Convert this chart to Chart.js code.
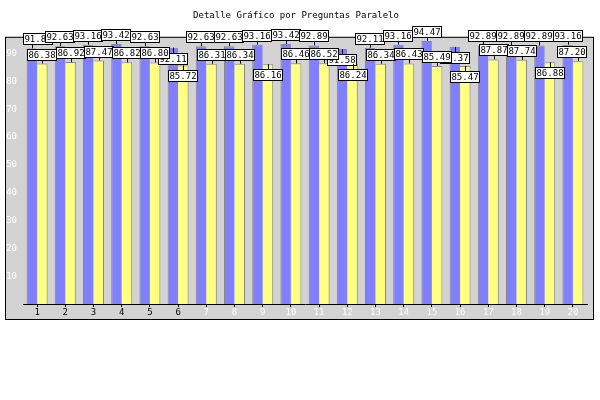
<!DOCTYPE html>
<html>
<head>
<meta charset="utf-8">
<script src="https://cdn.jsdelivr.net/npm/chart.js@4.4.1/dist/chart.umd.min.js"></script>
<style>
  html, body { margin: 0; padding: 0; background: #fff; }
  #wrap { width: 600px; height: 400px; }
</style>
</head>
<body>
<div id="wrap"><canvas id="chart" width="600" height="400"></canvas></div>
<script>
// ---- data ----
const CATEGORIES = ['1','2','3','4','5','6','7','8','9','10','11','12','13','14','15','16','17','18','19','20'];
const SERIES_A = [91.84, 92.63, 93.16, 93.42, 92.63, 92.11, 92.63, 92.63, 93.16, 93.42,
                  92.89, 91.58, 92.11, 93.16, 94.47, 92.37, 92.89, 92.89, 92.89, 93.16];
const SERIES_B = [86.38, 86.92, 87.47, 86.82, 86.80, 85.72, 86.31, 86.34, 86.16, 86.46,
                  86.52, 86.24, 86.34, 86.43, 85.49, 85.47, 87.87, 87.74, 86.88, 87.20];
const Y_TICKS = [10, 20, 30, 40, 50, 60, 70, 80, 90];
const TITLE = 'Detalle Gráfico por Preguntas Paralelo';

// labels that sit under the bar top instead of above it (index per series)
const BELOW = [[5, 11, 15], [5, 8, 11, 15, 18]];

const MONO = '"DejaVu Sans Mono", "Liberation Mono", monospace';

// gray panel behind the plot
const panelPlugin = {
  id: 'panel',
  beforeDraw(chart) {
    const ctx = chart.ctx;
    const top = chart.chartArea.top;
    ctx.save();
    ctx.fillStyle = '#d3d3d3';
    ctx.fillRect(5, top, 589, 320 - top);
    ctx.strokeStyle = '#000';
    ctx.lineWidth = 1;
    ctx.strokeRect(5.5, top + 0.5, 588, 320 - top - 1);
    ctx.restore();
  }
};

// boxed value labels with a little tie line to the bar top
const valueLabels = {
  id: 'valueLabels',
  afterDatasetsDraw(chart) {
    const ctx = chart.ctx;
    const area = chart.chartArea;
    ctx.save();
    ctx.font = '9px ' + MONO;
    ctx.textAlign = 'center';
    ctx.textBaseline = 'middle';
    chart.data.datasets.forEach((ds, di) => {
      const meta = chart.getDatasetMeta(di);
      meta.data.forEach((bar, i) => {
        const txt = ds.data[i].toFixed(2);
        const w = Math.round(ctx.measureText(txt).width) + 3;
        const h = 12;
        let left = Math.round(bar.x - w / 2);
        if (left < area.left) left = area.left;
        if (left + w > area.right) left = area.right - w;
        const below = BELOW[di].includes(i);
        const top = below ? Math.round(bar.y) + 5 : Math.round(bar.y) - 3 - h;
        const lx = Math.round(bar.x) + 0.5;
        ctx.strokeStyle = '#000';
        ctx.lineWidth = 1;
        ctx.beginPath();
        if (below) { ctx.moveTo(lx, bar.y); ctx.lineTo(lx, top); }
        else { ctx.moveTo(lx, top + h); ctx.lineTo(lx, bar.y); }
        ctx.stroke();
        ctx.fillStyle = '#fff';
        ctx.fillRect(left, top, w, h);
        ctx.strokeRect(left + 0.5, top + 0.5, w - 1, h - 1);
        ctx.fillStyle = '#000';
        ctx.fillText(txt, left + w / 2, top + h / 2 + 0.5);
      });
    });
    ctx.restore();
  }
};

new Chart(document.getElementById('chart'), {
  type: 'bar',
  data: {
    labels: CATEGORIES,
    datasets: [
      { data: SERIES_A, backgroundColor: '#8080ff', borderColor: '#888888',
        borderWidth: { top: 1, left: 1, right: 0, bottom: 0 }, borderSkipped: false },
      { data: SERIES_B, backgroundColor: '#ffff80', borderColor: '#888888',
        borderWidth: { top: 1, left: 0, right: 1, bottom: 0 }, borderSkipped: false }
    ]
  },
  options: {
    responsive: false,
    animation: false,
    events: [],
    datasets: { bar: { categoryPercentage: 0.745, barPercentage: 1.0 } },
    layout: { padding: { left: 5, right: 13, top: 0, bottom: 0 } },
    plugins: {
      legend: { display: false },
      tooltip: { enabled: false },
      title: {
        display: true, text: TITLE, color: '#000',
        font: { family: MONO, size: 9, weight: 'normal' },
        padding: { top: 10, bottom: 16 }
      }
    },
    scales: {
      x: {
        grid: { display: true, drawOnChartArea: false, offset: false, tickLength: 3, color: '#000' },
        border: { display: true, color: '#000' },
        ticks: {
          padding: 0, maxRotation: 0, autoSkip: false,
          font: { family: MONO, size: 9 },
          color: c => (c.index < 6 ? '#000' : '#fff')
        },
        afterFit(scale) { scale.height = 96; }
      },
      y: {
        min: 0, max: 96,
        grid: { display: false, drawTicks: false, tickLength: 0 },
        border: { display: false },
        afterBuildTicks(scale) { scale.ticks = Y_TICKS.map(v => ({ value: v })); },
        ticks: { padding: 6, color: '#fff', font: { family: MONO, size: 9 } },
        afterFit(scale) { scale.width = 18; }
      }
    }
  },
  plugins: [panelPlugin, valueLabels]
});
</script>
</body>
</html>
